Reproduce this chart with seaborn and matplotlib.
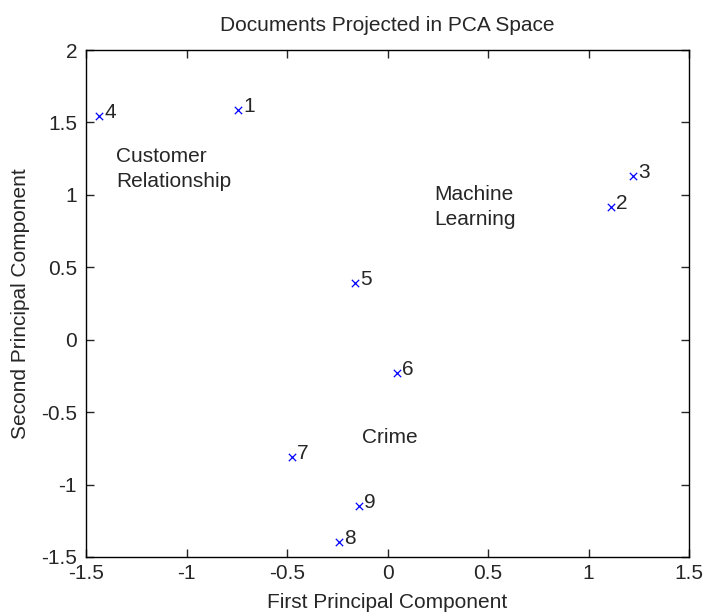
import numpy as np
import pandas as pd
import seaborn as sns
import matplotlib.pyplot as plt

# document coordinates in PCA space
doc_ids = ["1", "2", "3", "4", "5", "6", "7", "8", "9"]
pc1 = [-0.742, 1.110, 1.223, -1.435, -0.162, 0.046, -0.477, -0.240, -0.140]
pc2 = [1.585, 0.913, 1.129, 1.542, 0.389, -0.233, -0.812, -1.395, -1.148]

# cluster captions (left edge, last-line baseline)
cluster_names = ["Customer\nRelationship", "Machine\nLearning", "Crime"]
cluster_x = [-1.350, 0.232, -0.126]
cluster_y = [1.055, 0.791, -0.716]

x_ticks = [-1.5, -1, -0.5, 0, 0.5, 1, 1.5]
x_tick_labels = ["-1.5", "-1", "-0.5", "0", "0.5", "1", "1.5"]
y_ticks = [-1.5, -1, -0.5, 0, 0.5, 1, 1.5, 2]
y_tick_labels = ["-1.5", "-1", "-0.5", "0", "0.5", "1", "1.5", "2"]

sns.set_style("white")
plt.rcParams['font.family'] = ['Liberation Sans', 'DejaVu Sans']
FS = 15

df = pd.DataFrame({"pc1": pc1, "pc2": pc2, "doc": doc_ids})

fig = plt.figure(figsize=(7.04, 6.12), dpi=100)
ax = fig.add_axes([0.1222, 0.0899, 0.8565, 0.8284])

sns.scatterplot(data=df, x="pc1", y="pc2", marker="x", color="blue",
                s=28, linewidth=0.9, ax=ax, legend=False)

for d, x, y in zip(doc_ids, pc1, pc2):
    ax.text(x + 0.025, y - 0.014, d, fontsize=FS, va="baseline", ha="left")

for name, x, y in zip(cluster_names, cluster_x, cluster_y):
    ax.text(x, y, name, fontsize=FS, va="baseline", ha="left", linespacing=1.38)

ax.set_xlim(-1.5, 1.5)
ax.set_ylim(-1.5, 2)
ax.set_xticks(x_ticks)
ax.set_xticklabels(x_tick_labels)
ax.set_yticks(y_ticks)
ax.set_yticklabels(y_tick_labels)
ax.tick_params(direction="in", length=6, width=1, labelsize=FS, top=True, right=True,
               bottom=True, left=True)
ax.tick_params(axis="x", pad=5)
ax.tick_params(axis="y", pad=6.5)
for spine in ax.spines.values():
    spine.set_visible(True)
    spine.set_color("black")
    spine.set_linewidth(1)

ax.set_xlabel("First Principal Component", fontsize=FS, labelpad=7)
ax.set_ylabel("Second Principal Component", fontsize=FS, labelpad=8)
ax.set_title("Documents Projected in PCA Space", fontsize=FS, pad=14)

fig.savefig("out.png", dpi=100)
